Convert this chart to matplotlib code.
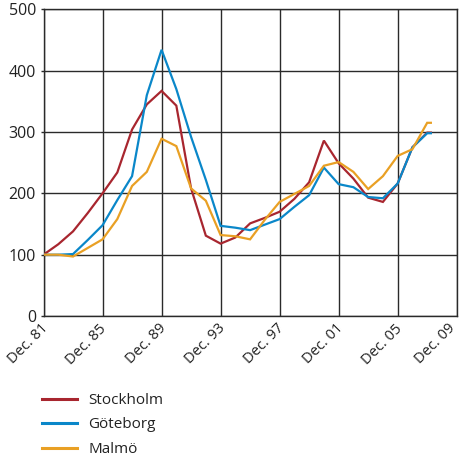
import matplotlib
matplotlib.use("Agg")
import matplotlib.pyplot as plt
from matplotlib.lines import Line2D

plt.rcParams['font.family'] = ['Open Sans', 'DejaVu Sans']

# Yearly index values (Dec. 1981 = 100), final half-step repeats the last level
years = [1981, 1982, 1983, 1984, 1985, 1986, 1987, 1988, 1989, 1990,
         1991, 1992, 1993, 1994, 1995, 1996, 1997, 1998, 1999, 2000,
         2001, 2002, 2003, 2004, 2005, 2006, 2007, 2007.25]

stockholm = [100, 117, 138, 168, 200, 234, 304, 345, 367, 343,
             208, 131, 118, 128, 151, 160, 170, 191, 218, 286,
             249, 224, 193, 186, 216, 275, 299, 299]
goteborg = [100, 100, 101, 124, 148, 189, 228, 360, 434, 370,
            292, 222, 147, 144, 140, 149, 158, 178, 197, 242,
            215, 210, 194, 192, 216, 275, 298, 298]
malmo = [100, 100, 97, 111, 125, 158, 212, 235, 289, 277,
         208, 188, 132, 130, 125, 157, 186, 199, 212, 245,
         251, 235, 207, 228, 261, 272, 315, 315]

series_names = ["Stockholm", "Göteborg", "Malmö"]
series_colors = ["#a8262f", "#0a87c9", "#e9a024"]

x_ticks = [1981, 1985, 1989, 1993, 1997, 2001, 2005, 2009]
x_labels = ["Dec. 81", "Dec. 85", "Dec. 89", "Dec. 93",
            "Dec. 97", "Dec. 01", "Dec. 05", "Dec. 09"]
y_ticks = [0, 100, 200, 300, 400, 500]

fig = plt.figure(figsize=(4.60, 4.59), dpi=100)
ax = fig.add_axes([0.0946, 0.3115, 0.8982, 0.6682])

for vals, name, col in zip([stockholm, goteborg, malmo], series_names, series_colors):
    ax.plot(years, vals, color=col, lw=1.6, label=name, solid_joinstyle='miter', zorder=3)

ax.set_xlim(1981, 2009)
ax.set_ylim(0, 500)
ax.set_xticks(x_ticks)
ax.set_xticklabels([])
# slanted date labels, ends sitting just right of each tick;
# the last one is pulled in so it stays inside the figure
for i, (xt, txt) in enumerate(zip(x_ticks, x_labels)):
    dx = 1.5 if i < len(x_ticks) - 1 else -2.5
    ax.annotate(txt, xy=(xt, 0), xycoords=('data', 'axes fraction'),
                xytext=(dx, -7.5), textcoords='offset points',
                rotation=45, rotation_mode='anchor', ha='right', va='center',
                fontsize=10.5, color='#222222', annotation_clip=False)
ax.set_yticks(y_ticks)
ax.set_yticklabels([str(v) for v in y_ticks], fontsize=11.5, color='#222222')
ax.tick_params(axis='y', length=2.5, width=1.0, color='#2a2a2a', pad=3)
ax.tick_params(axis='x', length=0)
ax.grid(True, color='#2a2a2a', lw=1.0, zorder=1)
for s in ax.spines.values():
    s.set_color('#2a2a2a')
    s.set_linewidth(1.0)

handles = [Line2D([], [], color=c, lw=2.2) for c in series_colors]
fig.legend(handles, series_names, loc='upper left', bbox_to_anchor=(0.091, 0.144),
           frameon=False, fontsize=11, handlelength=2.3, handletextpad=0.75,
           labelspacing=0.62, borderaxespad=0, borderpad=0, labelcolor='#222222')

fig.savefig("out.png", dpi=100)
